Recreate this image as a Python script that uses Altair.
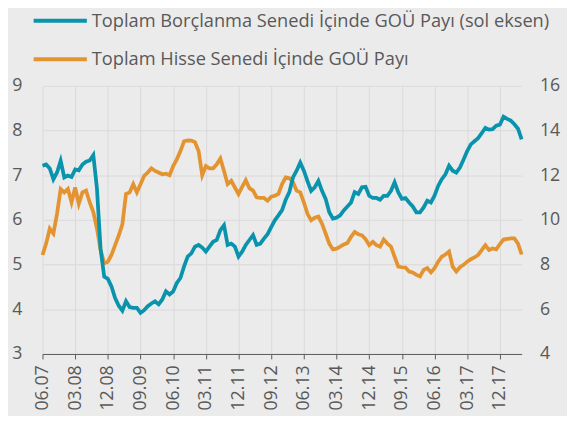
import altair as alt
import pandas as pd

tick_labels = ["06.07", "03.08", "12.08", "09.09", "06.10", "03.11", "12.11", "09.12",
               "06.13", "03.14", "12.14", "09.15", "06.16", "03.17", "12.17"]

series_names = ["Toplam Borçlanma Senedi İçinde GOÜ Payı (sol eksen)",
                "Toplam Hisse Senedi İçinde GOÜ Payı"]

# monthly, starting 06.2007 (left axis)
borc = [7.21, 7.24, 7.15, 6.91, 7.06, 7.32, 6.95, 6.99, 6.96, 7.13, 7.11, 7.24, 7.30, 7.33, 7.45,
        6.70, 5.35, 4.73, 4.68, 4.51, 4.25, 4.08, 3.97, 4.18, 4.05, 4.03, 4.03, 3.92, 3.98, 4.07,
        4.13, 4.18, 4.11, 4.22, 4.40, 4.33, 4.40, 4.59, 4.70, 4.96, 5.18, 5.25, 5.40, 5.44, 5.38,
        5.29, 5.40, 5.51, 5.55, 5.77, 5.88, 5.44, 5.47, 5.40, 5.18, 5.29, 5.44, 5.55, 5.66, 5.44,
        5.47, 5.58, 5.68, 5.84, 5.99, 6.10, 6.22, 6.45, 6.62, 6.95, 7.10, 7.28, 7.10, 6.87, 6.65,
        6.73, 6.87, 6.65, 6.47, 6.17, 6.03, 6.05, 6.10, 6.21, 6.30, 6.39, 6.62, 6.58, 6.73, 6.74,
        6.54, 6.49, 6.49, 6.45, 6.54, 6.54, 6.65, 6.84, 6.62, 6.47, 6.49, 6.39, 6.30, 6.17, 6.17,
        6.28, 6.43, 6.39, 6.54, 6.76, 6.91, 7.02, 7.21, 7.10, 7.06, 7.17, 7.35, 7.54, 7.69, 7.76,
        7.83, 7.94, 8.06, 8.02, 8.03, 8.11, 8.13, 8.31, 8.26, 8.22, 8.14, 8.04, 7.80]

# right axis
hisse = [8.43, 8.94, 9.61, 9.39, 10.27, 11.38, 11.23, 11.38, 10.79, 11.45, 10.72, 11.23, 11.31,
         10.79, 10.35, 9.61, 8.65, 8.06, 8.13, 8.43, 8.87, 9.30, 9.80, 11.16, 11.23, 11.60, 11.23,
         11.60, 11.97, 12.12, 12.31, 12.19, 12.12, 12.04, 12.07, 12.00, 12.41, 12.71, 13.08, 13.52,
         13.56, 13.55, 13.48, 13.08, 12.00, 12.41, 12.31, 12.31, 12.49, 12.75, 12.19, 11.60, 11.75,
         11.45, 11.16, 11.48, 11.78, 11.42, 11.31, 11.01, 10.98, 10.98, 10.86, 11.04, 11.08, 11.16,
         11.60, 11.90, 11.87, 11.68, 11.31, 11.23, 10.79, 10.27, 9.98, 10.10, 10.15, 9.83, 9.39,
         8.94, 8.68, 8.71, 8.80, 8.90, 8.97, 9.24, 9.46, 9.36, 9.31, 9.14, 8.87, 9.02, 8.87, 8.80,
         9.12, 8.94, 8.80, 8.35, 7.91, 7.88, 7.87, 7.69, 7.65, 7.54, 7.47, 7.76, 7.84, 7.65, 7.84,
         8.13, 8.35, 8.45, 8.58, 7.91, 7.69, 7.88, 7.99, 8.13, 8.24, 8.32, 8.43, 8.65, 8.87, 8.65,
         8.72, 8.68, 8.92, 9.12, 9.15, 9.17, 9.17, 8.94, 8.45]

left_ticks = [3, 4, 5, 6, 7, 8, 9]
right_ticks = [4, 6, 8, 10, 12, 14, 16]

FONT = "Open Sans"
GRAY = "#595959"
BLUE = "#0a93ad"
ORANGE = "#e39430"

df_b = pd.DataFrame({"m": list(range(len(borc))), "v": borc, "s": series_names[0]})
df_h = pd.DataFrame({"m": list(range(len(hisse))), "v": hisse, "s": series_names[1]})

tick_vals = [9 * i for i in range(len(tick_labels))]
label_expr = "[" + ",".join("'%s'" % t for t in tick_labels) + "][round(datum.value/9)]"

x = alt.X("m:Q",
          scale=alt.Scale(domain=[0, len(borc) - 1], nice=False, zero=False),
          axis=alt.Axis(values=tick_vals, labelExpr=label_expr, labelAngle=-90,
                        labelAlign="right", labelBaseline="middle", ticks=True,
                        tickSize=5, tickColor=GRAY, domainColor=GRAY, grid=True,
                        gridColor="#d9d9d9", labelFont=FONT, labelFontSize=18,
                        labelColor=GRAY, labelPadding=6, title=None))

color = alt.Color("s:N",
                  scale=alt.Scale(domain=series_names, range=[BLUE, ORANGE]),
                  legend=alt.Legend(orient="none", legendX=-11, legendY=-95, title=None,
                                    symbolType="stroke", symbolStrokeWidth=4,
                                    symbolSize=2916, labelFont=FONT, labelFontSize=18.5,
                                    labelColor=GRAY, labelLimit=700, labelOffset=3,
                                    padding=0, rowPadding=-3))

left = alt.Chart(df_b).mark_line(strokeWidth=3.8).encode(
    x=x,
    y=alt.Y("v:Q", scale=alt.Scale(domain=[3, 9], nice=False, zero=False),
            axis=alt.Axis(orient="left", values=left_ticks, grid=True, gridColor="#d9d9d9",
                          domain=False, ticks=False, labelPadding=21, labelFont=FONT,
                          labelFontSize=18, labelColor=GRAY, title=None)),
    color=color,
)

right = alt.Chart(df_h).mark_line(strokeWidth=3.8).encode(
    x=x,
    y=alt.Y("v:Q", scale=alt.Scale(domain=[4, 16], nice=False, zero=False),
            axis=alt.Axis(orient="right", values=right_ticks, grid=False,
                          domain=False, ticks=False, labelPadding=18, labelFont=FONT,
                          labelFontSize=18, labelColor=GRAY, title=None)),
    color=color,
)

chart = alt.layer(right, left).resolve_scale(y="independent").properties(
    width=486, height=272,
    autosize=alt.AutoSizeParams(type="none"),
    padding={"left": 35, "top": 76, "right": 46, "bottom": 60},
    background="#ebebeb",
).configure_view(stroke=None)

chart.save("out.html", embed_options={"renderer": "svg", "actions": False})
